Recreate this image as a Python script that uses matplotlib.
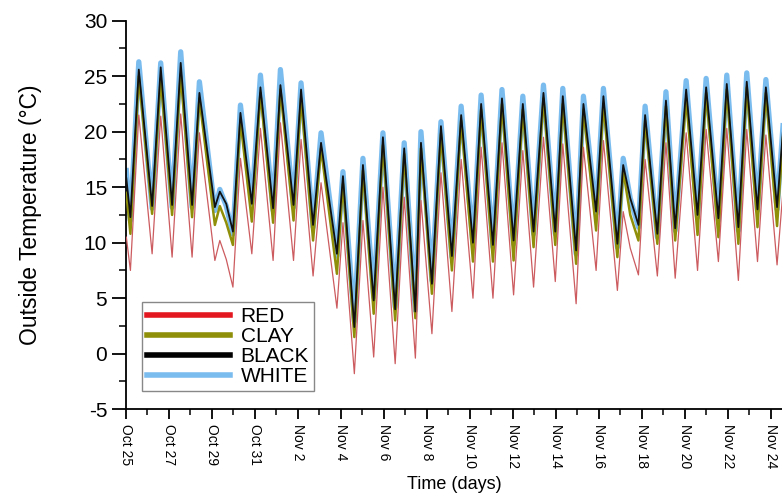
import matplotlib
matplotlib.use('Agg')
import matplotlib.pyplot as plt
from matplotlib.lines import Line2D
from matplotlib.ticker import MultipleLocator

plt.rcParams['font.family'] = ['Liberation Sans', 'DejaVu Sans']
plt.rcParams['axes.unicode_minus'] = False

### Data ###
# time of daily troughs / peaks (days after Oct 25 00:00)
t_key = [0.02, 0.21, 0.60, 1.22, 1.62, 2.15, 2.55, 3.08, 3.42, 4.14,
         4.37, 4.67, 4.98, 5.33, 5.86, 6.26, 6.85, 7.19, 7.80, 8.15,
         8.71, 9.08, 9.82, 10.10, 10.63, 11.03, 11.53, 11.96, 12.53, 12.95,
         13.47, 13.73, 14.24, 14.66, 15.17, 15.60, 16.15, 16.53, 17.08, 17.50,
         18.04, 18.47, 18.97, 19.43, 19.98, 20.33, 20.95, 21.29, 21.88, 22.22,
         22.87, 23.14, 23.47, 23.85, 24.16, 24.73, 25.13, 25.56, 26.07, 26.60,
         27.00, 27.57, 27.96, 28.50, 28.89, 29.39, 29.78, 30.30, 30.63]

white = [16.5, 12.0, 26.3, 13.1, 26.2, 13.2, 27.2, 13.2, 24.5, 12.9,
         14.8, 13.3, 10.8, 22.4, 13.5, 25.1, 12.9, 25.6, 13.2, 24.4,
         11.4, 19.9, 8.8, 16.4, 2.9, 17.6, 5.1, 19.9, 4.2, 19.0,
         3.9, 20.0, 6.6, 20.9, 8.7, 22.3, 9.9, 23.3, 9.6, 23.8,
         9.9, 23.2, 10.8, 24.2, 10.8, 23.9, 9.0, 23.2, 12.6, 23.9,
         9.6, 17.6, 14.0, 11.4, 22.3, 10.5, 23.6, 11.1, 24.6, 12.3,
         24.8, 12.0, 25.1, 11.1, 25.3, 12.9, 24.7, 13.0, 22.0]

black = [15.8, 12.3, 25.6, 13.3, 25.8, 13.4, 26.2, 13.4, 23.5, 13.2,
         14.6, 13.5, 11.0, 21.7, 13.5, 24.0, 13.1, 24.2, 13.4, 23.8,
         11.6, 19.0, 9.0, 16.0, 2.4, 17.0, 4.8, 19.5, 4.0, 18.5,
         3.8, 19.0, 6.3, 20.5, 8.8, 21.5, 10.0, 22.5, 9.8, 23.0,
         10.2, 22.5, 11.0, 23.5, 11.0, 23.2, 9.3, 22.5, 12.8, 23.2,
         9.9, 17.0, 14.0, 11.6, 21.5, 10.8, 22.8, 11.3, 23.8, 12.5,
         24.0, 12.2, 24.3, 11.4, 24.5, 13.0, 24.0, 13.2, 21.5]

clay = [14.5, 10.8, 25.0, 12.6, 24.8, 12.5, 25.2, 12.3, 23.0, 11.6,
        13.3, 11.8, 9.8, 21.0, 11.9, 23.5, 11.8, 23.8, 12.0, 23.0,
        10.2, 18.5, 7.2, 15.3, 1.5, 16.5, 3.6, 18.8, 3.0, 18.0,
        3.2, 18.5, 5.4, 19.8, 7.5, 21.0, 8.3, 22.0, 8.3, 22.5,
        8.4, 22.0, 9.6, 23.0, 9.8, 22.5, 8.1, 22.0, 11.1, 22.5,
        8.7, 16.5, 12.5, 10.2, 21.0, 9.9, 22.3, 10.2, 23.0, 10.7,
        23.5, 10.5, 23.8, 9.9, 24.0, 11.4, 23.5, 11.5, 21.0]

red = [10.5, 7.5, 21.5, 9.0, 21.4, 8.7, 21.6, 8.7, 19.9, 8.4,
       10.2, 8.5, 6.0, 17.6, 9.0, 20.3, 8.4, 20.8, 8.4, 19.3,
       7.0, 15.4, 4.1, 11.8, -1.8, 12.0, -0.3, 15.0, -0.9, 14.1,
       -0.4, 13.8, 1.8, 16.3, 3.8, 17.5, 5.0, 18.6, 5.0, 19.0,
       5.3, 18.3, 6.0, 19.5, 6.5, 18.9, 4.5, 18.6, 7.5, 19.2,
       5.7, 12.8, 9.5, 7.1, 17.5, 7.0, 19.0, 6.8, 19.9, 7.5,
       20.2, 8.3, 20.3, 6.6, 20.2, 8.3, 19.7, 8.0, 16.0]

tick_days = list(range(0, 31, 2))
tick_labels = ['Oct 25', 'Oct 27', 'Oct 29', 'Oct 31', 'Nov 2', 'Nov 4',
               'Nov 6', 'Nov 8', 'Nov 10', 'Nov 12', 'Nov 14', 'Nov 16',
               'Nov 18', 'Nov 20', 'Nov 22', 'Nov 24']

series_names = ['RED', 'CLAY', 'BLACK', 'WHITE']
legend_colors = ['#e3171f', '#8f8f0a', '#000000', '#7bbcef']

### Plot ###
fig = plt.figure(figsize=(7.82, 4.93), dpi=100)
ax = fig.add_axes([0.161, 0.170, 0.839, 0.788])

ax.plot(t_key, white, color='#7bbcef', lw=3.8, solid_joinstyle='round', zorder=2)
ax.plot(t_key, clay, color='#8f8f0a', lw=1.8, zorder=3)
ax.plot(t_key, black, color='#111111', lw=1.3, zorder=4)
ax.plot(t_key, red, color='#cc5b5f', lw=0.9, zorder=5)

ax.set_xlim(0, 30.53)
ax.set_ylim(-5, 30)
ax.spines['top'].set_visible(False)
ax.spines['right'].set_visible(False)
ax.spines['left'].set_linewidth(1.3)
ax.spines['bottom'].set_linewidth(1.3)

ax.set_xticks(tick_days)
ax.set_xticklabels(tick_labels, rotation=-90, fontsize=10)
ax.xaxis.set_minor_locator(MultipleLocator(1))
ax.yaxis.set_major_locator(MultipleLocator(5))
ax.yaxis.set_minor_locator(MultipleLocator(2.5))
ax.tick_params(axis='y', which='major', length=10, width=1.3, labelsize=15)
ax.tick_params(axis='y', which='minor', length=5, width=1.1)
ax.tick_params(axis='x', which='major', length=7, width=1.3)
ax.tick_params(axis='x', which='minor', length=4, width=1.1)

ax.set_xlabel('Time (days)', fontsize=13, labelpad=6)
ax.set_ylabel('Outside Temperature (\u00b0C)', fontsize=16.5, labelpad=30)

handles = [Line2D([0], [0], color=c, lw=4) for c in legend_colors]
leg = ax.legend(handles, series_names, loc='lower left',
                bbox_to_anchor=(0.024, 0.046), borderaxespad=0,
                fontsize=15, handlelength=4.0, handletextpad=0.5,
                labelspacing=0.05, borderpad=0.25, fancybox=False,
                framealpha=1, edgecolor='#888888')
leg.get_frame().set_linewidth(1.0)

fig.savefig('out.png', dpi=100)
